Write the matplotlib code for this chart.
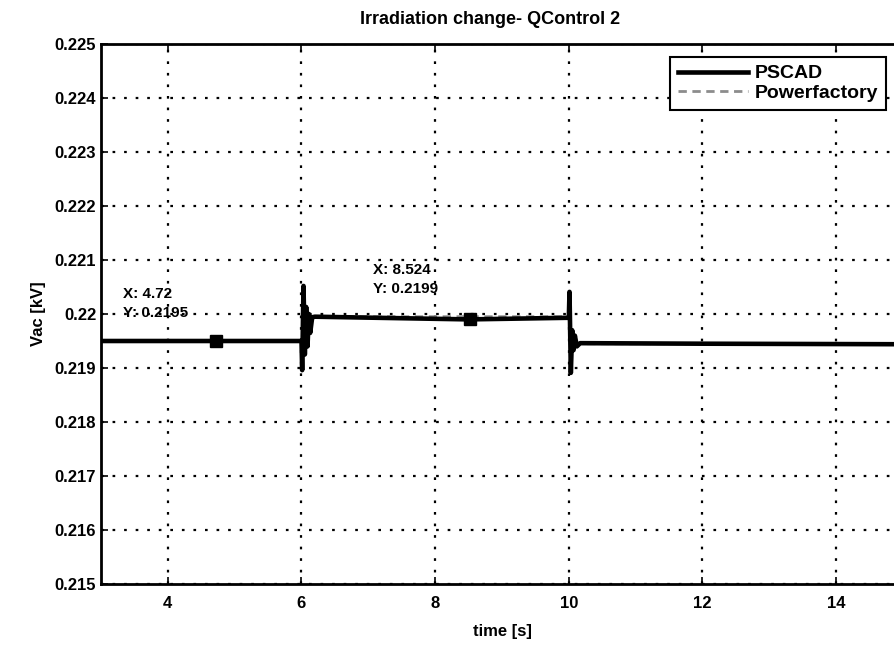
import numpy as np
import matplotlib.pyplot as plt

plt.rcParams['font.family'] = ['Liberation Sans', 'DejaVu Sans']
plt.rcParams['font.weight'] = 'bold'

# PSCAD trace (time in s, voltage in kV)
t_pscad = [3.0, 6.0, 6.01, 6.03, 6.05, 6.07, 6.09, 6.11, 6.13, 6.16, 6.2, 8.5, 10.0,
           10.01, 10.03, 10.05, 10.07, 10.09, 10.12, 10.17, 12.0, 15.0]
v_pscad = [0.2195, 0.2195, 0.21896, 0.22052, 0.21925, 0.22013, 0.2194, 0.2200, 0.21965, 0.21994,
           0.21995, 0.2199, 0.21993,
           0.22041, 0.21891, 0.21970, 0.21933, 0.21960, 0.21940, 0.21946, 0.21945, 0.21944]

# Powerfactory trace
t_pf = [3.0, 6.0, 6.05, 6.1, 10.0, 10.05, 10.1, 15.0]
v_pf = [0.2195, 0.2195, 0.2199, 0.21995, 0.21995, 0.2195, 0.21945, 0.21945]

# data tips
tip_x = [4.72, 8.524]
tip_y = [0.2195, 0.2199]
tip_labels = ['X: 4.72\nY: 0.2195', 'X: 8.524\nY: 0.2199']

fig = plt.figure(figsize=(8.95, 6.53), dpi=100)
ax = fig.add_axes([101 / 895, 1 - 584 / 653, 802 / 895, 540 / 653])

ax.plot(t_pf, v_pf, color='0.55', lw=2, dashes=(3, 2), label='Powerfactory', zorder=2)
ax.plot(t_pscad, v_pscad, color='black', lw=3.3, label='PSCAD', zorder=3)

ax.plot(tip_x, tip_y, 's', color='black', ms=9, zorder=4)
ax.text(3.33, 0.22019, tip_labels[0], fontsize=11, va='center', ha='left',
        linespacing=1.45, zorder=5)
ax.text(7.07, 0.22064, tip_labels[1], fontsize=11, va='center', ha='left',
        linespacing=1.45, zorder=5)

ax.set_xlim(3, 15)
ax.set_ylim(0.215, 0.225)
ax.set_xticks([4, 6, 8, 10, 12, 14])
ax.set_yticks(np.arange(0.215, 0.2251, 0.001))
ax.set_yticklabels(['0.215', '0.216', '0.217', '0.218', '0.219', '0.22',
                    '0.221', '0.222', '0.223', '0.224', '0.225'])
ax.tick_params(direction='in', top=True, right=True, labelsize=12, width=1.2, length=5)
ax.tick_params(axis='x', pad=9)
ax.grid(True, color='black', linestyle=(0, (1.2, 4)), linewidth=1.6)
for s in ax.spines.values():
    s.set_linewidth(2)

ax.set_xlabel('time [s]', fontsize=12, fontweight='bold', labelpad=9)
ax.set_ylabel('Vac [kV]', fontsize=12, fontweight='bold', labelpad=6)
fig.text(490 / 895, 1 - 20 / 653, 'Irradiation change- QControl 2', fontsize=13,
         fontweight='bold', ha='center', va='center')

handles, labels = ax.get_legend_handles_labels()
leg = ax.legend(handles[::-1], labels[::-1], loc='upper right', fontsize=14,
                frameon=True, fancybox=False, edgecolor='black', framealpha=1,
                handlelength=3.6, handletextpad=0.36, borderpad=0.4, labelspacing=0.1,
                borderaxespad=0, bbox_to_anchor=(0.979, 0.976))
leg.get_frame().set_linewidth(1.5)

fig.savefig('out.png', dpi=100)
